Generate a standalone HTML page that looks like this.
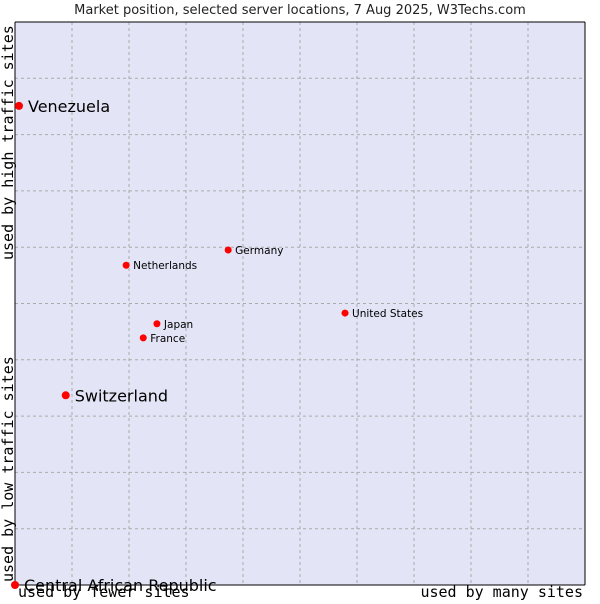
<!DOCTYPE html>
<html><head><meta charset="utf-8"><style>
body{margin:0;background:#fff;width:600px;height:600px;overflow:hidden;font-family:"DejaVu Sans","Liberation Sans",sans-serif}
</style></head><body>
<svg id="chart" width="600" height="600" xmlns="http://www.w3.org/2000/svg">
<text x="300" y="14" text-anchor="middle" font-size="13" font-family="DejaVu Sans, sans-serif" fill="#222">Market position, selected server locations, 7 Aug 2025, W3Techs.com</text>
<rect x="15" y="22" width="570" height="563" fill="#e3e5f7"/>
<g id="grid"></g>
<line x1="15" y1="22" x2="15" y2="585" stroke="#000"/>
<line x1="15" y1="585" x2="585" y2="585" stroke="#000"/>
<line x1="15" y1="22" x2="585" y2="22" stroke="#000"/>
<line x1="585" y1="22" x2="585" y2="585" stroke="#000"/>
<text transform="translate(13,260) rotate(-90)" font-size="15" font-family="DejaVu Sans Mono, monospace" fill="#000">used by high traffic sites</text>
<text transform="translate(13,582) rotate(-90)" font-size="15" font-family="DejaVu Sans Mono, monospace" fill="#000">used by low traffic sites</text>
<text x="18" y="597" font-size="15" font-family="DejaVu Sans Mono, monospace" fill="#000">used by fewer sites</text>
<text x="583" y="597" text-anchor="end" font-size="15" font-family="DejaVu Sans Mono, monospace" fill="#000">used by many sites</text>
<g id="points"></g>
</svg>
<script>
const names = ["Venezuela","Switzerland","Central African Republic","Netherlands","Germany","United States","Japan","France"];
const xVals = [0.07,0.89,0,1.95,3.74,5.79,2.49,2.25];
const yVals = [8.51,3.37,0,5.68,5.95,4.83,4.64,4.39];
const bigLabel = [true,true,true,false,false,false,false,false];
const NS="http://www.w3.org/2000/svg";
const X=v=>15+v*57, Y=v=>585-v*56.3;
const grid=document.getElementById('grid');
for(let i=1;i<10;i++){
  const l=document.createElementNS(NS,'line');
  
  
  l.setAttribute('x1',X(i));l.setAttribute('x2',X(i));l.setAttribute('y1',22);l.setAttribute('y2',585);
  l.setAttribute('stroke','#aaa');l.setAttribute('stroke-dasharray','3,3');grid.appendChild(l);
  const h=document.createElementNS(NS,'line');
  
  
  h.setAttribute('y1',Y(i));h.setAttribute('y2',Y(i));h.setAttribute('x1',15);h.setAttribute('x2',585);
  h.setAttribute('stroke','#aaa');h.setAttribute('stroke-dasharray','3,3');grid.appendChild(h);
}
const pts=document.getElementById('points');
names.forEach((n,i)=>{
  const c=document.createElementNS(NS,'circle');
  
  
  c.setAttribute('cx',X(xVals[i]));c.setAttribute('cy',Y(yVals[i]));c.setAttribute('r',bigLabel[i]?4:3.5);c.setAttribute('fill','#f00');
  pts.appendChild(c);
  const t=document.createElementNS(NS,'text');
  
  
  t.setAttribute('x',X(xVals[i])+(bigLabel[i]?9:7));
  t.setAttribute('y',Y(yVals[i])+(bigLabel[i]?6:4));
  t.setAttribute('font-size',bigLabel[i]?16:10.5);
  t.setAttribute('fill','#000');
  t.textContent=n;pts.appendChild(t);
});
</script>
</body></html>
